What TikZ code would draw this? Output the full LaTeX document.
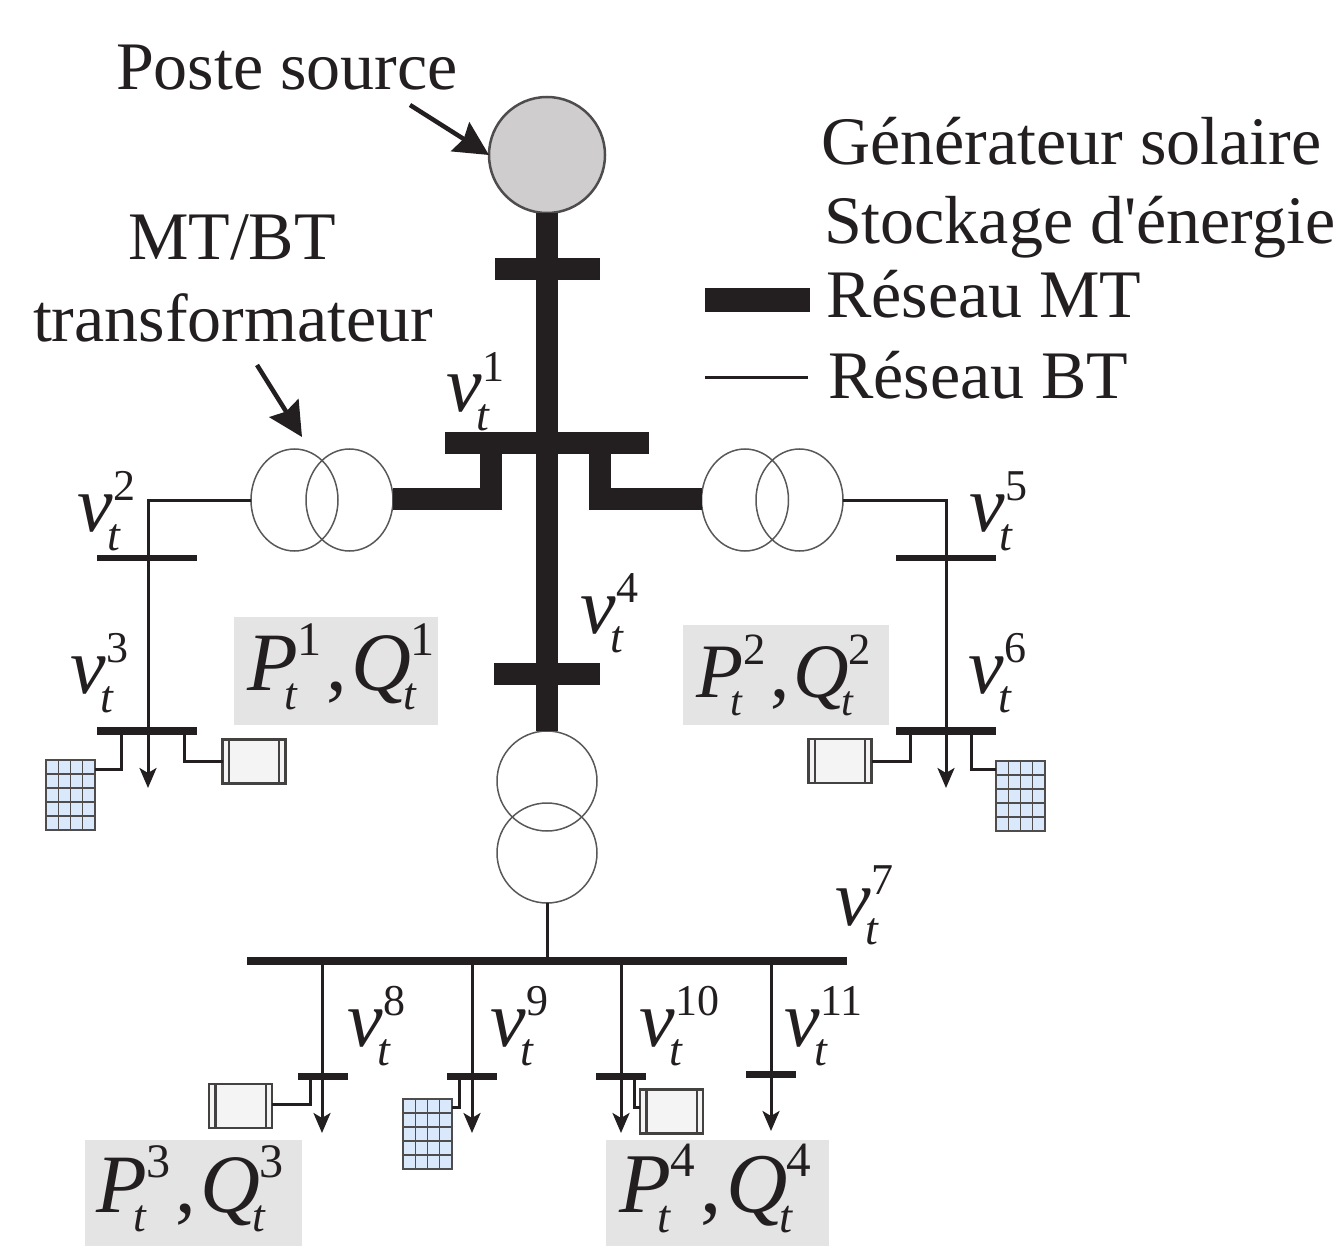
\documentclass[tikz,border=0pt]{standalone}
\usepackage{fontspec}
\setmainfont{Liberation Serif}
\newfontfamily\plainserif{Liberation Serif}
\usetikzlibrary{arrows.meta,calc,shapes.geometric}
\definecolor{ink}{HTML}{231F20}
\definecolor{boxgray}{HTML}{E4E4E4}
\definecolor{srcgray}{HTML}{CFCDCE}
\definecolor{pvblue}{HTML}{DAE8FC}
\definecolor{storfill}{HTML}{F4F4F4}
\newcommand{\vlab}[1]{{\fontsize{80}{80}\selectfont\itshape v}\kern-5pt\rlap{\kern6pt\raisebox{31pt}{\fontsize{44}{44}\selectfont #1}}\raisebox{-19pt}{\fontsize{46}{46}\selectfont\itshape t}}
\newcommand{\pqlab}[2]{\fontsize{#1}{#1}\selectfont{\itshape P}\rlap{\raisebox{.42em}{\fontsize{.58em}{.58em}\selectfont #2}}\kern-.16em\raisebox{-.24em}{\fontsize{.55em}{.55em}\selectfont\itshape t}\kern.36em,\kern.05em{\itshape Q}\rlap{\kern-.01em\raisebox{.42em}{\fontsize{.58em}{.58em}\selectfont #2}}\kern-.10em\raisebox{-.24em}{\fontsize{.55em}{.55em}\selectfont\itshape t}}
\tikzset{
  txt/.style={anchor=base west,inner sep=0pt,outer sep=0pt,text=ink,font=\plainserif\fontsize{68}{68}\selectfont},
  vtxt/.style={anchor=base west,inner sep=0pt,outer sep=0pt,text=ink},
  pqbox/.style={fill=boxgray,draw=none,inner sep=0pt,outer sep=0pt},
  hv/.style={line width=22pt,draw=ink},
  lv/.style={line width=3pt,draw=ink},
  bar/.style={fill=ink,draw=none,inner sep=0pt,outer sep=0pt,minimum height=#1},
  xfmr/.style={circle,draw=ink!75,line width=1.5pt,inner sep=0pt,outer sep=0pt,minimum size=#1},
  xfmre/.style={ellipse,draw=ink!75,line width=1.5pt,inner sep=0pt,outer sep=0pt,minimum width=87pt,minimum height=102pt},
  load/.style={lv,-{Stealth[length=20pt,width=17pt,inset=5pt]}},
  pointer/.style={line width=4.5pt,draw=ink,-{Stealth[length=34pt,width=34pt,inset=4pt]}},
  pvpanel/.style={rectangle,draw=ink!80,fill=pvblue,line width=1.4pt,inner sep=0pt,outer sep=0pt,minimum width=49pt,minimum height=70pt,
    path picture={
      \foreach \f in {.25,.5,.75}{\draw[ink!80,line width=1.4pt] ($(path picture bounding box.south west)!\f!(path picture bounding box.south east)$) -- ($(path picture bounding box.north west)!\f!(path picture bounding box.north east)$);}
      \foreach \f in {.2,.4,.6,.8}{\draw[ink!80,line width=1.4pt] ($(path picture bounding box.south west)!\f!(path picture bounding box.north west)$) -- ($(path picture bounding box.south east)!\f!(path picture bounding box.north east)$);}
    }},
  storage/.style={rectangle,draw=ink!85,fill=storfill,line width=2.4pt,inner sep=0pt,outer sep=0pt,minimum width=63pt,minimum height=44pt,
    path picture={
      \foreach \f in {.1,.9}{\draw[ink!85,line width=2.4pt] ($(path picture bounding box.south west)!\f!(path picture bounding box.south east)$) -- ($(path picture bounding box.north west)!\f!(path picture bounding box.north east)$);}
    }},
}
\begin{document}
\begin{tikzpicture}[x=1pt,y=-1pt]
\useasboundingbox (0,0) rectangle (1344,1246);
% grey boxes and their labels
\node[pqbox,minimum width=204pt,minimum height=108pt] (b1) at (336,671) {};
\node[pqbox,minimum width=206pt,minimum height=100pt] (b2) at (786,675) {};
\node[pqbox,minimum width=217pt,minimum height=106pt] (b3) at (193.5,1193) {};
\node[pqbox,minimum width=223pt,minimum height=106pt] (b4) at (717.5,1193) {};
\node[vtxt] (pq1) at (247,690) {\pqlab{83}{1}};
\node[vtxt] (pq2) at (696,697) {\pqlab{77}{2}};
\node[vtxt] (pq3) at (96,1212) {\pqlab{83}{3}};
\node[vtxt] (pq4) at (619,1212) {\pqlab{85}{4}};
% source and transformers
\node[circle,draw=ink!80,fill=srcgray,line width=2.5pt,inner sep=0pt,outer sep=0pt,minimum size=116pt] (src) at (547,155) {};
\node[xfmre] (tl1) at (294.5,500) {};
\node[xfmre] (tl2) at (349.5,500) {};
\node[xfmre] (tr1) at (745,500) {};
\node[xfmre] (tr2) at (799.5,500) {};
\node[xfmr=100pt] (tc1) at (547,781) {};
\node[xfmr=100pt] (tc2) at (547,853) {};
% MV network
\node[bar=22pt,minimum width=105pt] (mv1) at (547.5,269) {};
\node[bar=22pt,minimum width=204pt] (mv2) at (547,443) {};
\node[bar=22pt,minimum width=106pt] (mv3) at (547,674) {};
\draw[hv] (src.south) -- (tc1.north);
\coordinate (jl) at (491,454);
\coordinate (jr) at (600,454);
\draw[hv,line join=miter] (jl) -- (491,499) -- (tl2.east |- 0,499);
\draw[hv,line join=miter] (jr) -- (600,499) -- (tr1.west |- 0,499);
% LV left
\node[bar=6pt,minimum width=100pt] (l1) at (147,558) {};
\node[bar=8pt,minimum width=100pt] (l2) at (147,731) {};
\coordinate (le) at (148,788);
\draw[load] (tl1.west) -| (le);
\node[pvpanel] (pvl) at (70.5,795) {};
\node[storage] (stl) at (254,761.5) {};
\coordinate (jla) at (121,731);
\coordinate (jlb) at (184,731);
\draw[lv] (jla) |- (pvl.east |- 0,769);
\draw[lv] (jlb) |- (stl.west);
% LV right
\node[bar=6pt,minimum width=100pt] (r1) at (946,558) {};
\node[bar=8pt,minimum width=100pt] (r2) at (946,731) {};
\coordinate (re) at (946,788);
\draw[load] (tr2.east) -| (re);
\node[pvpanel] (pvr) at (1020.5,796) {};
\node[storage] (str) at (840,761) {};
\coordinate (jra) at (910,731);
\coordinate (jrb) at (971,731);
\draw[lv] (jra) |- (str.east);
\draw[lv] (jrb) |- (pvr.west |- 0,769);
% LV lower
\node[bar=8pt,minimum width=600pt] (lb) at (546.5,961) {};
\draw[lv] (tc2.south) -- (lb.north -| tc2.south);
\node[bar=7pt,minimum width=50pt] (f1) at (322.5,1076) {};
\node[bar=7pt,minimum width=50pt] (f2) at (472,1076) {};
\node[bar=7pt,minimum width=50pt] (f3) at (621,1076) {};
\node[bar=7pt,minimum width=50pt] (f4) at (771,1074) {};
\coordinate (e1) at (322,1133);
\coordinate (e2) at (472,1133);
\coordinate (e3) at (621,1133);
\coordinate (e4) at (771,1131);
\draw[load] (lb.south -| e1) -- (e1);
\draw[load] (lb.south -| e2) -- (e2);
\draw[load] (lb.south -| e3) -- (e3);
\draw[load] (lb.south -| e4) -- (e4);
\node[storage] (st1) at (240.5,1106) {};
\node[pvpanel] (pv2) at (427.5,1134) {};
\node[storage] (st3) at (671.5,1111.5) {};
\coordinate (j1) at (310,1076);
\coordinate (j2) at (459,1076);
\coordinate (j3) at (634,1076);
\draw[lv] (j1) |- (st1.east |- 0,1104);
\draw[lv] (j2) |- (pv2.east |- 0,1107);
\draw[lv] (j3) |- (st3.west |- 0,1107);
% pointers
\coordinate (ps) at (410,105);
\coordinate (ts) at (257,365);
\coordinate (te) at (302,437);
\draw[pointer] (ps) -- (src.west);
\draw[pointer] (ts) -- (te);
% legend
\node[bar=24pt,minimum width=105pt] (lg1) at (757.5,300) {};
\coordinate (lg2a) at (705,378);
\coordinate (lg2b) at (808,378);
\draw[lv] (lg2a) -- (lg2b);
% text
\node[txt] (t1) at (116,90) {Poste source};
\node[txt] (t2) at (821,165) {Générateur solaire};
\node[txt] (t3) at (824,244) {Stockage d'énergie};
\node[txt] (t4) at (826,318) {Réseau MT};
\node[txt] (t5) at (828,399) {Réseau BT};
\node[txt] (t6) at (128,260) {MT/BT};
\node[txt] (t7) at (33,342) {transformateur};
% voltage labels
\node[vtxt] (v1) at (446,412) {\vlab{1}};
\node[vtxt] (v2) at (77,531) {\vlab{2}};
\node[vtxt] (v3) at (70,693) {\vlab{3}};
\node[vtxt] (v4) at (580,633) {\vlab{4}};
\node[vtxt] (v5) at (969,531) {\vlab{5}};
\node[vtxt] (v6) at (968,693) {\vlab{6}};
\node[vtxt] (v7) at (835,925) {\vlab{7}};
\node[vtxt] (v8) at (347,1046) {\vlab{8}};
\node[vtxt] (v9) at (490,1046) {\vlab{9}};
\node[vtxt] (v10) at (639,1046) {\vlab{10}};
\node[vtxt] (v11) at (784,1046) {\vlab{11}};
\end{tikzpicture}
\end{document}
